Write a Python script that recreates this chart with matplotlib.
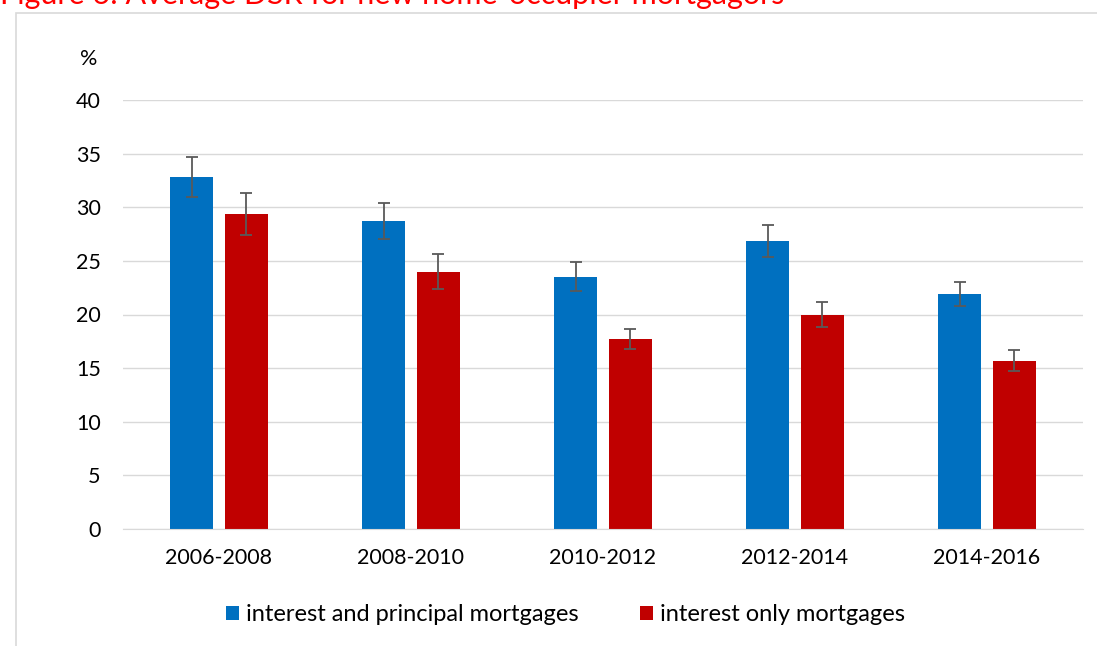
import matplotlib.pyplot as plt
import matplotlib.patches as patches
import numpy as np

periods = ['2006-2008', '2008-2010', '2010-2012', '2012-2014', '2014-2016']
ip_values = [32.8, 28.7, 23.5, 26.85, 21.9]
ip_errors = [1.85, 1.7, 1.35, 1.45, 1.1]
io_values = [29.4, 24.0, 17.7, 20.0, 15.7]
io_errors = [1.95, 1.6, 0.95, 1.2, 1.0]

plt.rcParams['font.family'] = ['Lato', 'DejaVu Sans']

fig = plt.figure(figsize=(10.97, 6.46), dpi=100)
# light frame around the chart
fig.patches.append(patches.Rectangle((16 / 1097, -0.1), 1.2, 1.1 - 13 / 646,
                                     transform=fig.transFigure, fill=False,
                                     edgecolor='#d9d9d9', linewidth=1.2))
fig.text(0.0, 1 + 5 / 646, 'Figure 6: Average DSR for new home-occupier mortgagors',
         color='#ff0000', fontsize=22, ha='left', va='center')

ax = fig.add_axes([123 / 1097, 1 - 529 / 646, 960 / 1097, 429 / 646])
x = np.arange(len(periods))
w = 0.224
off = 0.143
err_kw = dict(ecolor='#595959', elinewidth=1.3, capsize=4, capthick=1.3)
ax.bar(x - off, ip_values, w, yerr=ip_errors, color='#0070c0',
       label='interest and principal mortgages', error_kw=err_kw, zorder=2)
ax.bar(x + off, io_values, w, yerr=io_errors, color='#c00000',
       label='interest only mortgages', error_kw=err_kw, zorder=2)

ax.set_xlim(-0.5, 4.5)
ax.set_ylim(0, 40)
ax.set_yticks(range(0, 41, 5))
ax.set_xticks(x)
ax.set_xticklabels(periods)
ax.tick_params(axis='both', length=0, labelsize=15.5, colors='black')
ax.tick_params(axis='y', pad=16)
ax.tick_params(axis='x', pad=14)
ax.grid(axis='y', color='#d9d9d9', linewidth=1, zorder=0)
for s in ['top', 'right', 'left']:
    ax.spines[s].set_visible(False)
ax.spines['bottom'].set_color('#d9d9d9')
ax.text(-0.027, 1.095, '%', transform=ax.transAxes, ha='right', va='center',
        fontsize=15.5)

ax.legend(loc='center', bbox_to_anchor=(0.461, -0.2), ncol=2, frameon=False,
          fontsize=17, handlelength=0.55, handleheight=0.55, handletextpad=0.3,
          columnspacing=2.6)

fig.savefig('out.png', dpi=100)
